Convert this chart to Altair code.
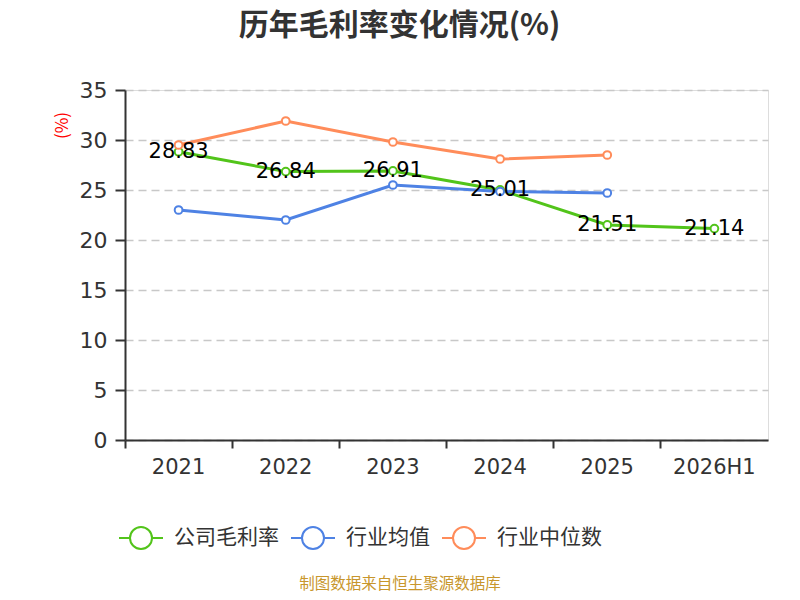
import altair as alt
import pandas as pd

years = ["2021", "2022", "2023", "2024", "2025", "2026H1"]
series_names = ["公司毛利率", "行业均值", "行业中位数"]
company = [28.83, 26.84, 26.91, 25.01, 21.51, 21.14]
industry_mean = [23.0, 22.0, 25.5, 24.85, 24.7, None]
industry_median = [29.5, 31.9, 29.8, 28.1, 28.5, None]
colors = ["#52c41a", "#4e82e4", "#ff8c5a"]

rows = []
for name, vals in zip(series_names, [company, industry_mean, industry_median]):
    for y, v in zip(years, vals):
        if v is not None:
            rows.append({"year": y, "series": name, "value": v})
df = pd.DataFrame(rows)
df_company = pd.DataFrame({"year": years, "value": company,
                           "label": [f"{v:.2f}" for v in company]})

FONT = "Noto Sans CJK SC"
NUMFONT = "DejaVu Sans"

x_enc = alt.X("year:N", sort=years,
              scale=alt.Scale(type="band", paddingInner=0, paddingOuter=0),
              axis=alt.Axis(title=None, labelAngle=0, labelFontSize=21,
                            labelFont=NUMFONT,
                            labelColor="#333333", labelPadding=8,
                            domainColor="#333333", domainWidth=2,
                            tickColor="#333333", tickWidth=2, tickSize=8,
                            bandPosition=0, grid=False))
y_enc = alt.Y("value:Q",
              scale=alt.Scale(domain=[0, 35], nice=False),
              axis=alt.Axis(title="(%)", titleColor="red", titleFontSize=17,
                            titleFont=FONT,
                            titleFontWeight="normal", titleAngle=-90,
                            titleX=-63, titleY=35, titleAlign="center",
                            titleBaseline="middle",
                            values=[0, 5, 10, 15, 20, 25, 30, 35],
                            labelFontSize=22, labelFont=NUMFONT,
                            labelColor="#333333",
                            labelPadding=8,
                            domainColor="#333333", domainWidth=2,
                            tickColor="#333333", tickWidth=2, tickSize=10,
                            grid=True, gridColor="#c8c8c8", gridDash=[8, 5],
                            gridWidth=1.5))

legend_path = ("M-1,0L-0.5,0M0.5,0L1,0"
               "M-0.5,0A0.5,0.5 0 1,1 0.5,0A0.5,0.5 0 1,1 -0.5,0Z")

color_enc = alt.Color("series:N",
                      scale=alt.Scale(domain=series_names, range=colors),
                      legend=alt.Legend(title=None, orient="none",
                                        direction="horizontal",
                                        legendX=-7, legendY=425,
                                        symbolType=legend_path,
                                        symbolSize=1936,
                                        symbolStrokeWidth=2,
                                        symbolFillColor="white",
                                        labelFontSize=21, labelColor="#333333",
                                        labelOffset=10, columnPadding=8,
                                        labelFont=FONT))

lines = alt.Chart(df).mark_line(strokeWidth=3).encode(
    x=x_enc, y=y_enc, color=color_enc,
    order=alt.Order("series:N"))

points = alt.Chart(df).mark_point(filled=True, fill="white", size=60,
                                  strokeWidth=2, opacity=1).encode(
    x=alt.X("year:N", sort=years), y="value:Q",
    stroke=alt.Stroke("series:N", scale=alt.Scale(domain=series_names, range=colors),
                      legend=None))

labels = alt.Chart(df_company).mark_text(fontSize=21, color="#000000",
                                         font="Segoe UI, DejaVu Sans, sans-serif",
                                         baseline="middle", align="center").encode(
    x=alt.X("year:N", sort=years), y="value:Q", text="label:N")

footer = alt.Chart(pd.DataFrame({"t": ["制图数据来自恒生聚源数据库"]})).mark_text(
    fontSize=15.5, color="#c8962c", font=FONT, align="center", baseline="middle"
).encode(x=alt.value(275), y=alt.value(494), text="t:N")

chart = alt.layer(lines, points, labels, footer).properties(
    width=643, height=350,
    title=alt.TitleParams("历年毛利率变化情况(%)", fontSize=30, font=FONT,
                          fontWeight="bold", color="#333333",
                          anchor="middle", dx=-47, offset=38),
    autosize=alt.AutoSizeParams(type="none"),
    padding={"left": 117, "top": 82, "right": 24, "bottom": 152},
).resolve_scale(color="shared").configure_view(stroke=None).configure(
    font=FONT
)

chart.save("out.html", embed_options={"renderer": "svg", "actions": False})
